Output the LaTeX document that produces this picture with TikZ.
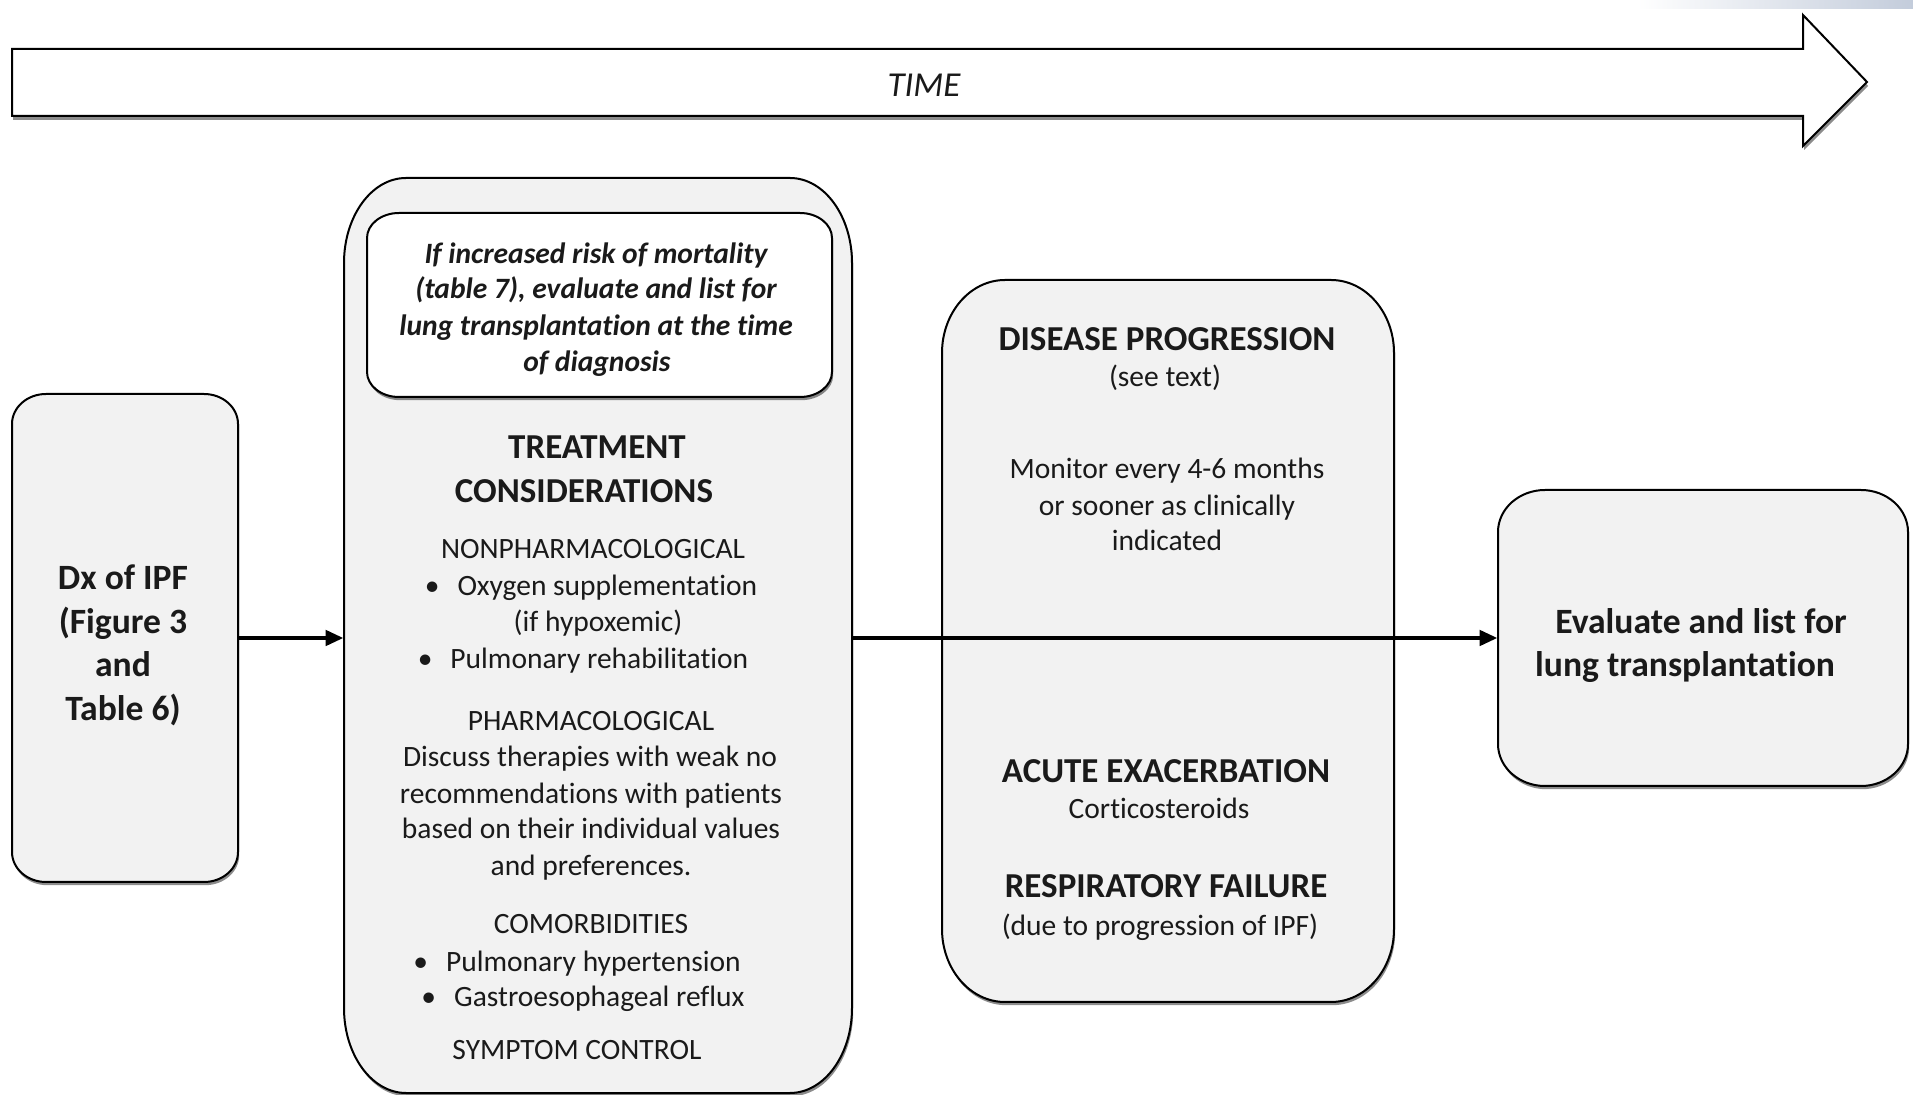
\documentclass[tikz,border=0pt]{standalone}
\usepackage{fontspec}
\setmainfont{Carlito}[Ligatures=NoCommon]
\usetikzlibrary{arrows.meta,shadows,fit}
\definecolor{ink}{HTML}{1A1A1A}
\definecolor{boxgray}{HTML}{F2F2F2}
\definecolor{cornerblue}{HTML}{C3CCDB}
% rounded box with elliptical corners: style, x1, ytop, x2, ybottom, rx, ry (pixel units, y downward)
\newcommand\rbox[7]{%
  \path[#1] ({#2+#6},{-#3}) -- ({#4-#6},{-#3})
    arc[start angle=90,end angle=0,x radius={#6*0.5pt},y radius={#7*0.5pt}]
    -- ({#4},{-#5+#7})
    arc[start angle=0,end angle=-90,x radius={#6*0.5pt},y radius={#7*0.5pt}]
    -- ({#2+#6},{-#5})
    arc[start angle=270,end angle=180,x radius={#6*0.5pt},y radius={#7*0.5pt}]
    -- ({#2},{-#3-#7})
    arc[start angle=180,end angle=90,x radius={#6*0.5pt},y radius={#7*0.5pt}]
    -- cycle;}
\tikzset{
  boxshape/.style={draw=black, line width=1pt, fill=boxgray,
    drop shadow={shadow xshift=0.6pt, shadow yshift=-1.6pt, opacity=0.45, fill=black}},
  innershape/.style={boxshape, fill=white},
  anchorbox/.style={inner sep=0pt, draw=none},
  tx/.style={anchor=base, inner sep=0pt, text=ink, font=\fontsize{14.75pt}{18pt}\selectfont},
  hd/.style={tx, font=\fontsize{17.5pt}{21pt}\selectfont\bfseries},
  itx/.style={tx, font=\fontsize{14.75pt}{18pt}\selectfont\bfseries\itshape},
  big/.style={tx, font=\fontsize{17.8pt}{21pt}\selectfont\bfseries},
  conn/.style={line width=2.4pt, draw=black, -{Triangle[length=9pt,width=7.5pt]}},
}
\begin{document}
\begin{tikzpicture}[x=0.5pt,y=0.5pt]
\useasboundingbox (0,0) rectangle (1913,-1095);
\fill[white] (0,0) rectangle (1913,-1095);
% top-right gradient strip
\shade[left color=white, right color=cornerblue] (1637,0) rectangle (1913,-9);
% time arrow
\draw[line width=1pt, fill=white, drop shadow={shadow xshift=0.6pt, shadow yshift=-2pt, opacity=0.45, fill=black}]
  (12,-49) -- (1803,-49) -- (1803,-15) -- (1867,-82) -- (1803,-146) -- (1803,-116) -- (12,-116) -- cycle;
\node[tx, font=\fontsize{17.5pt}{21pt}\selectfont\itshape] (time) at (924,-97) {TIME};

% boxes
\rbox{boxshape}{12}{394}{238}{882}{34}{30}
\node[anchorbox, fit={(12,-394) (238,-882)}] (dx) {};
\rbox{boxshape}{344}{178}{852}{1093}{62}{85}
\node[anchorbox, fit={(344,-178) (852,-1093)}] (treat) {};
\rbox{innershape}{367}{213}{832}{397}{32}{25}
\node[anchorbox, fit={(367,-213) (832,-397)}] (risk) {};
\rbox{boxshape}{942}{280}{1394}{1002}{63}{73}
\node[anchorbox, fit={(942,-280) (1394,-1002)}] (prog) {};
\rbox{boxshape}{1498}{490}{1908}{786}{47}{42}
\node[anchorbox, fit={(1498,-490) (1908,-786)}] (eval) {};

% connectors
\draw[conn] (dx.east |- 0,-638) -- (treat.west |- 0,-638);
\draw[conn] (treat.east |- 0,-638) -- (eval.west |- 0,-638);

% Dx text
\node[big] (d1) at (123,-590) {Dx of IPF};
\node[big] (d2) at (123,-634) {(Figure 3};
\node[big] (d3) at (123,-677) {and};
\node[big] (d4) at (123,-721) {Table 6)};

% risk box text
\node[itx] (m1) at (596,-264) {If increased risk of mortality};
\node[itx] (m2) at (596,-299) {(table 7), evaluate and list for};
\node[itx] (m3) at (596,-336) {lung transplantation at the time};
\node[itx] (m4) at (597,-372) {of diagnosis};

% treatment text
\node[hd] (tc1) at (597,-459) {TREATMENT};
\node[hd] (tc2) at (584,-503) {CONSIDERATIONS};
\node[tx] (np) at (593,-559) {NONPHARMACOLOGICAL};
\node[tx] (np1) at (591,-596) {•\hspace{9pt}Oxygen supplementation};
\node[tx] (np2) at (598,-632) {(if hypoxemic)};
\node[tx] (np3) at (583,-669) {•\hspace{9pt}Pulmonary rehabilitation};
\node[tx] (ph) at (591,-731) {PHARMACOLOGICAL};
\node[tx] (ph1) at (590,-767) {Discuss therapies with weak no};
\node[tx] (ph2) at (591,-804) {recommendations with patients};
\node[tx] (ph3) at (591,-839) {based on their individual values};
\node[tx] (ph4) at (591,-876) {and preferences.};
\node[tx] (co) at (591,-934) {COMORBIDITIES};
\node[tx] (co1) at (577,-972) {•\hspace{9pt}Pulmonary hypertension};
\node[tx] (co2) at (583,-1007) {•\hspace{9pt}Gastroesophageal reflux};
\node[tx] (sc) at (577,-1059) {SYMPTOM CONTROL};

% progression text
\node[hd] (dp) at (1167,-351) {DISEASE PROGRESSION};
\node[tx] (dp1) at (1165,-387) {(see text)};
\node[tx] (dm1) at (1167,-479) {Monitor every 4-6 months};
\node[tx] (dm2) at (1167,-516) {or sooner as clinically};
\node[tx] (dm3) at (1167,-551) {indicated};
\node[hd] (ae) at (1166,-783) {ACUTE EXACERBATION};
\node[tx] (ae1) at (1159,-819) {Corticosteroids};
\node[hd] (rf) at (1166,-898) {RESPIRATORY FAILURE};
\node[tx] (rf1) at (1160,-936) {(due to progression of IPF)};

% evaluate text
\node[big] (ev1) at (1701,-634) {Evaluate and list for};
\node[big] (ev2) at (1685,-677) {lung transplantation};
\end{tikzpicture}
\end{document}
